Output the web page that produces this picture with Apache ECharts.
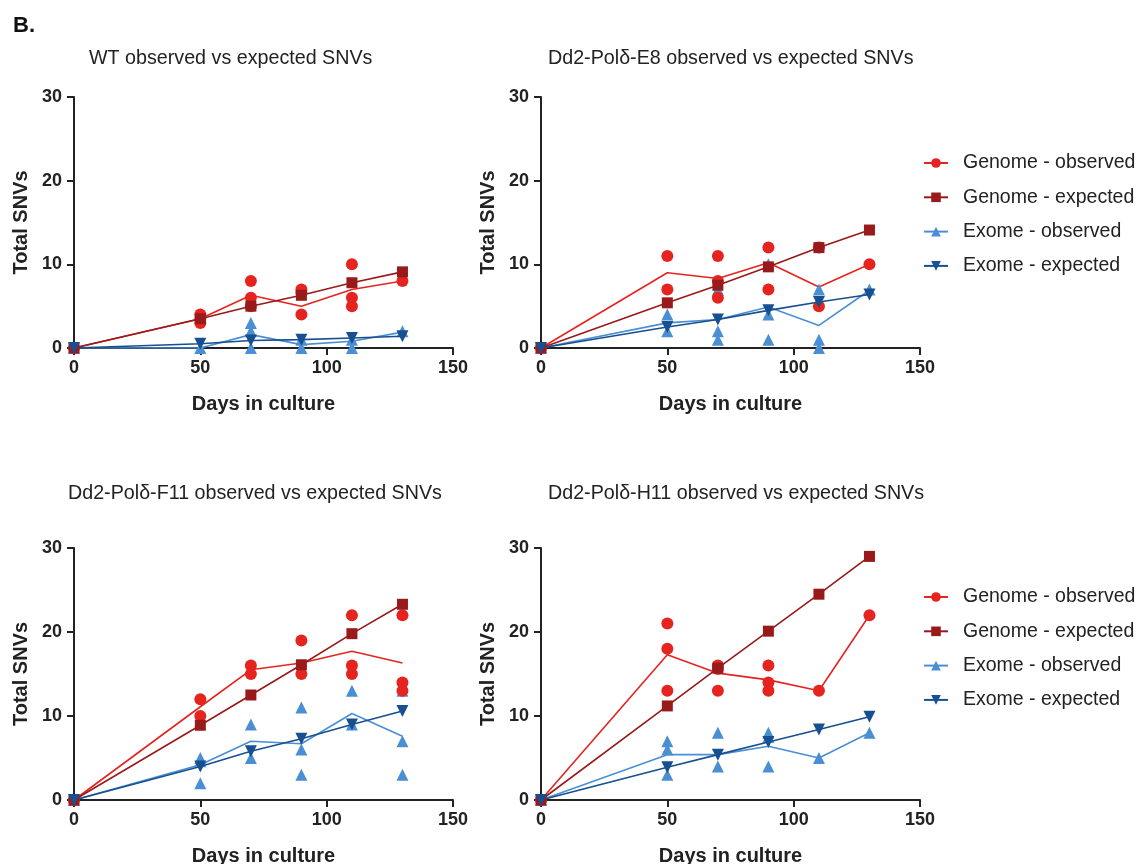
<!DOCTYPE html>
<html>
<head>
<meta charset="utf-8">
<script src="https://cdn.jsdelivr.net/npm/echarts@6/dist/echarts.min.js"></script>
<style>
html,body{margin:0;padding:0;background:#fff;}
#chart{width:1144px;height:864px;}
</style>
</head>
<body>
<div id="chart"></div>
<script>
// ---- data ----
const days = [0, 50, 70, 90, 110, 130];
const xTicks = [0, 50, 100, 150];
const yTicks = [0, 10, 20, 30];
const seriesNames = ['Genome - observed', 'Genome - expected', 'Exome - observed', 'Exome - expected'];
const panelTitles = [
  'WT observed vs expected SNVs',
  'Dd2-Polδ-E8 observed vs expected SNVs',
  'Dd2-Polδ-F11 observed vs expected SNVs',
  'Dd2-Polδ-H11 observed vs expected SNVs'
];

// WT
const wtGenomeObsReps = [[0], [3, 4, 3.5], [8, 6, 5], [7, 6.6, 4], [10, 6, 5], [8]];
const wtGenomeObsMean = [0, 3.5, 6.3, 5.0, 7.0, 8.0];
const wtGenomeExp = [0, 3.5, 5.0, 6.3, 7.8, 9.1];
const wtExomeObsReps = [[0], [0], [3, 2, 0], [1, 0], [1, 0], [2]];
const wtExomeObsMean = [0, 0, 1.6, 0.4, 0.8, 1.9];
const wtExomeExp = [0, 0.5, 0.9, 1.0, 1.2, 1.4];

// E8
const e8GenomeObsReps = [[0], [11, 7], [11, 8, 6], [12, 7], [12, 5], [10]];
const e8GenomeObsMean = [0, 9.0, 8.3, 10.2, 7.3, 10.0];
const e8GenomeExp = [0, 5.4, 7.5, 9.7, 12.0, 14.1];
const e8ExomeObsReps = [[0], [4, 2], [7, 2, 1], [10, 4, 1], [7, 1, 0], [7]];
const e8ExomeObsMean = [0, 3.0, 3.4, 4.9, 2.7, 6.9];
const e8ExomeExp = [0, 2.5, 3.4, 4.5, 5.5, 6.4];

// F11
const f11GenomeObsReps = [[0], [12, 10], [16, 15], [19, 15], [22, 16, 15], [22, 14, 13]];
const f11GenomeObsMean = [0, 11.1, 15.5, 16.3, 17.7, 16.3];
const f11GenomeExp = [0, 8.9, 12.5, 16.1, 19.8, 23.3];
const f11ExomeObsReps = [[0], [5, 4.6, 2], [9, 5], [11, 6, 3], [13, 9], [13, 7, 3]];
const f11ExomeObsMean = [0, 4.2, 7.0, 6.7, 10.3, 7.6];
const f11ExomeExp = [0, 4.0, 5.8, 7.3, 9.0, 10.6];

// H11
const h11GenomeObsReps = [[0], [21, 18, 13], [16, 15.6, 13], [16, 14, 13], [13], [22]];
const h11GenomeObsMean = [0, 17.3, 15.1, 14.3, 13.0, 22.0];
const h11GenomeExp = [0, 11.2, 15.7, 20.1, 24.5, 29.0];
const h11ExomeObsReps = [[0], [7, 6, 3], [8, 4], [8, 7.5, 4], [5], [8]];
const h11ExomeObsMean = [0, 5.4, 5.4, 6.4, 5.0, 8.0];
const h11ExomeExp = [0, 3.9, 5.4, 6.9, 8.4, 9.9];

const panels = [
  [wtGenomeObsReps, wtGenomeObsMean, wtGenomeExp, wtExomeObsReps, wtExomeObsMean, wtExomeExp],
  [e8GenomeObsReps, e8GenomeObsMean, e8GenomeExp, e8ExomeObsReps, e8ExomeObsMean, e8ExomeExp],
  [f11GenomeObsReps, f11GenomeObsMean, f11GenomeExp, f11ExomeObsReps, f11ExomeObsMean, f11ExomeExp],
  [h11GenomeObsReps, h11GenomeObsMean, h11GenomeExp, h11ExomeObsReps, h11ExomeObsMean, h11ExomeExp]
];

// ---- style ----
const FONT = '"Liberation Sans", Arial, Helvetica, sans-serif';
const C_GO = '#e52420';
const C_GE = '#981a1a';
const C_EO = '#4a8fd3';
const C_EE = '#174f91';
const AXIS_C = '#222';

const gridPos = [
  {left: 74, top: 97, width: 379, height: 251, containLabel: false, outerBoundsMode: 'none'},
  {left: 541, top: 97, width: 379, height: 251, containLabel: false, outerBoundsMode: 'none'},
  {left: 74, top: 548, width: 379, height: 252, containLabel: false, outerBoundsMode: 'none'},
  {left: 541, top: 548, width: 379, height: 252, containLabel: false, outerBoundsMode: 'none'}
];
const titlePos = [
  {left: 84, top: 44},
  {left: 543, top: 44},
  {left: 63, top: 479},
  {left: 543, top: 479}
];

const pair = arr => days.map((d, i) => [d, arr[i]]);
const reps = arr => {
  const out = [];
  arr.forEach((vals, i) => vals.forEach(v => out.push([days[i], v])));
  return out;
};

const series = [];
panels.forEach((p, k) => {
  const ax = {xAxisIndex: k, yAxisIndex: k};
  series.push(Object.assign({
    name: seriesNames[0], type: 'line', data: pair(p[1]),
    symbol: 'circle', symbolSize: 11, showSymbol: false,
    lineStyle: {color: C_GO, width: 1.6}, itemStyle: {color: C_GO}, z: 2,
    silent: true, animation: false
  }, ax));
  series.push(Object.assign({
    name: seriesNames[1], type: 'line', data: pair(p[2]),
    symbol: 'rect', symbolSize: 11, showSymbol: true,
    lineStyle: {color: C_GE, width: 1.6}, itemStyle: {color: C_GE}, z: 4,
    silent: true, animation: false
  }, ax));
  series.push(Object.assign({
    name: seriesNames[2], type: 'line', data: pair(p[4]),
    symbol: 'triangle', symbolSize: 12, showSymbol: false,
    lineStyle: {color: C_EO, width: 1.6}, itemStyle: {color: C_EO}, z: 2,
    silent: true, animation: false
  }, ax));
  series.push(Object.assign({
    name: seriesNames[3], type: 'line', data: pair(p[5]),
    symbol: 'triangle', symbolRotate: 180, symbolSize: 12, showSymbol: true,
    lineStyle: {color: C_EE, width: 1.6}, itemStyle: {color: C_EE}, z: 4,
    silent: true, animation: false
  }, ax));
  series.push(Object.assign({
    name: seriesNames[2], type: 'scatter', data: reps(p[3]),
    symbol: 'triangle', symbolSize: 12, itemStyle: {color: C_EO, opacity: 1}, z: 3,
    silent: true, animation: false
  }, ax));
  series.push(Object.assign({
    name: seriesNames[0], type: 'scatter', data: reps(p[0]),
    symbol: 'circle', symbolSize: 12, itemStyle: {color: C_GO, opacity: 1}, z: 3,
    silent: true, animation: false
  }, ax));
});

const xAxes = gridPos.map((g, k) => ({
  type: 'value', gridIndex: k, min: xTicks[0], max: xTicks[xTicks.length - 1], interval: 50,
  name: 'Days in culture', nameLocation: 'middle', nameGap: 46,
  nameTextStyle: {fontFamily: FONT, fontWeight: 'bold', fontSize: 20, color: AXIS_C},
  axisLine: {show: true, onZero: false, lineStyle: {color: AXIS_C, width: 2}},
  axisTick: {show: true, length: 7, lineStyle: {color: AXIS_C, width: 2}},
  axisLabel: {fontFamily: FONT, fontWeight: 'bold', fontSize: 18, color: AXIS_C, margin: 11},
  splitLine: {show: false}
}));
const yAxes = gridPos.map((g, k) => ({
  type: 'value', gridIndex: k, min: yTicks[0], max: yTicks[yTicks.length - 1], interval: 10,
  name: 'Total SNVs', nameLocation: 'middle', nameGap: 43, nameRotate: 90,
  nameTextStyle: {fontFamily: FONT, fontWeight: 'bold', fontSize: 20, color: AXIS_C},
  axisLine: {show: true, onZero: false, lineStyle: {color: AXIS_C, width: 2}},
  axisTick: {show: true, length: 7, lineStyle: {color: AXIS_C, width: 2}},
  axisLabel: {fontFamily: FONT, fontWeight: 'bold', fontSize: 18, color: AXIS_C, margin: 12},
  splitLine: {show: false}
}));

const titles = [{
  text: 'B.', left: 8, top: 10,
  textStyle: {fontFamily: FONT, fontWeight: 'bold', fontSize: 22, color: '#111'}
}].concat(panelTitles.map((t, k) => ({
  text: t, left: titlePos[k].left, top: titlePos[k].top,
  textStyle: {fontFamily: FONT, fontWeight: 'normal', fontSize: 19.7, color: '#222'}
})));

const legendBase = {
  orient: 'vertical', data: seriesNames, itemWidth: 24, itemHeight: 12, itemGap: 14.3,
  textStyle: {fontFamily: FONT, fontSize: 19.5, color: '#222', padding: [0, 0, 0, 10]},
  selectedMode: false
};

const chart = echarts.init(document.getElementById('chart'), null, {renderer: 'canvas'});
chart.setOption({
  backgroundColor: '#ffffff',
  animation: false,
  title: titles,
  legend: [
    Object.assign({}, legendBase, {left: 918, top: 148}),
    Object.assign({}, legendBase, {left: 918, top: 582})
  ],
  grid: gridPos,
  xAxis: xAxes,
  yAxis: yAxes,
  series: series
});
</script>
</body>
</html>
